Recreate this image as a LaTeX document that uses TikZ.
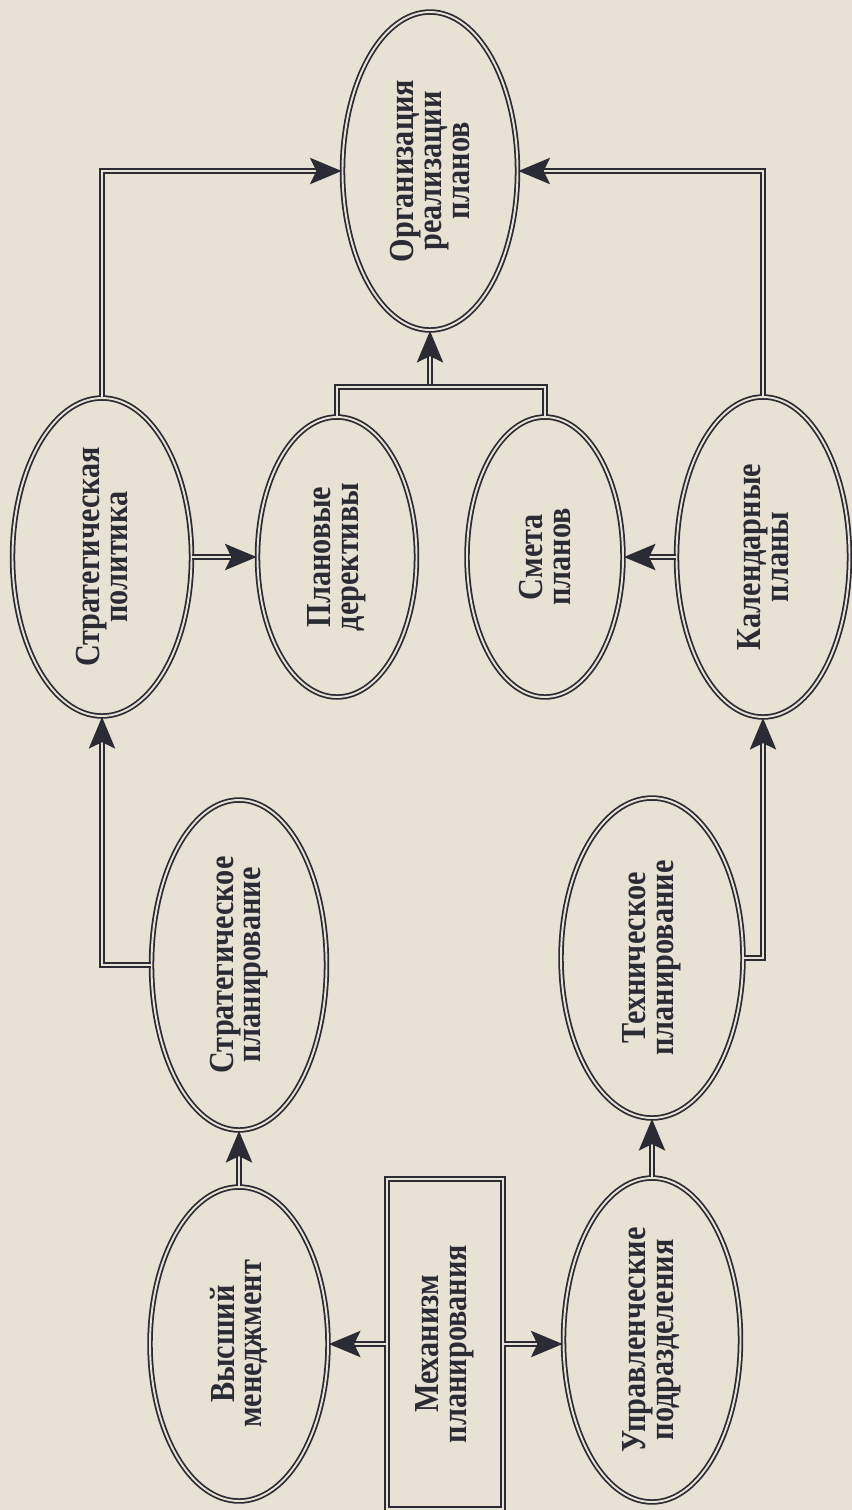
\documentclass[tikz,border=0pt]{standalone}
\usepackage{fontspec}
\setmainfont{Liberation Serif}
\usetikzlibrary{shapes.geometric,arrows.meta}
\definecolor{paper}{HTML}{E7E2D3}
\definecolor{ink}{HTML}{2B2B36}
% tight leading for the turned captions
\newcommand{\capfont}{\fontsize{10}{7.9}\selectfont\bfseries
  \lineskiplimit=-20pt\relax}

\begin{document}
\begin{tikzpicture}[
  x=0.1mm,
  y=-0.1mm,
  line join=miter,
  bubble/.style={ellipse,draw=ink,double=paper,double distance=0.55pt,
    line width=0.5pt,inner sep=0pt,minimum width=17.5mm,
    minimum height=31.8mm},
  boxnode/.style={rectangle,draw=ink,double=paper,double distance=0.55pt,
    line width=0.5pt,inner sep=0pt,minimum width=11.6mm,
    minimum height=33mm},
  vtext/.style={rotate=90,xscale=0.86,align=center,text=ink,
    inner sep=0pt,font=\capfont},
  link/.style={draw=ink,double=paper,double distance=0.55pt,
    line width=0.45pt},
  tip/.style={-{Stealth[length=9pt,width=7.5pt,inset=1.8pt]}}
]
  \useasboundingbox (0,0) rectangle (852,1510);
  \fill[paper] (0,0) rectangle (852,1510);

  % upper row: policy, directives, estimate, calendar
  \node[bubble] (org) at (430,171) {};
  \node[bubble,minimum width=17.9mm] (strpol) at (102,557) {};
  \node[bubble,minimum width=15.9mm,minimum height=28mm] (plandir)
    at (337,557) {};
  \node[bubble,minimum width=15.6mm,minimum height=28mm] (smeta)
    at (545,557) {};
  \node[bubble,minimum width=17.3mm,minimum height=32mm] (kal)
    at (763,557) {};

  % planning levels
  \node[bubble,minimum height=33mm] (strplan) at (239,965) {};
  \node[bubble,minimum width=18.2mm,minimum height=32mm] (tehplan)
    at (652,958) {};

  % bottom row
  \node[bubble,minimum width=17.8mm,minimum height=31.4mm] (vys)
    at (239,1344) {};
  \node[boxnode] (mech) at (445,1344) {};
  \node[bubble,minimum width=17.7mm,minimum height=32.4mm] (upr)
    at (652,1340) {};

  % captions, turned to run upwards
  \node[vtext] (org-t) at (org) {Организация\\реализации\\планов};
  \node[vtext] (strpol-t) at (strpol) {Стратегическая\\политика};
  \node[vtext] (plandir-t) at (plandir) {Плановые\\дерективы};
  \node[vtext] (smeta-t) at (smeta) {Смета\\планов};
  \node[vtext] (kal-t) at (kal) {Календарные\\планы};
  \node[vtext] (strplan-t) at (strplan) {Стратегическое\\планирование};
  \node[vtext] (tehplan-t) at (tehplan) {Техническое\\планирование};
  \node[vtext] (vys-t) at (vys) {Высший\\менеджмент};
  \node[vtext] (mech-t) at (mech) {Механизм\\планирования};
  \node[vtext] (upr-t) at (upr) {Управленческие\\подразделения};

  % connectors
  \coordinate (bus) at (org.south |- 0,387);
  \draw[link,tip] (bus) -- (org.south);
  \draw[link] (plandir.north) |- (bus) -| (smeta.north);
  \draw[link,tip] (strpol.north) |- (org.west);
  \draw[link,tip] (kal.north) |- (org.east);
  \draw[link,tip] (strpol.east) -- (plandir.west);
  \draw[link,tip] (kal.west) -- (smeta.east);
  \draw[link,tip] (strplan.west) -| (strpol.south);
  \draw[link,tip] (tehplan.east) -| (kal.south);
  \draw[link,tip] (vys.north) -- (strplan.south);
  \draw[link,tip] (upr.north) -- (tehplan.south);
  \draw[link,tip] (mech.west) -- (mech.west -| vys.east);
  \draw[link,tip] (mech.east) -- (mech.east -| upr.west);
\end{tikzpicture}
\end{document}
